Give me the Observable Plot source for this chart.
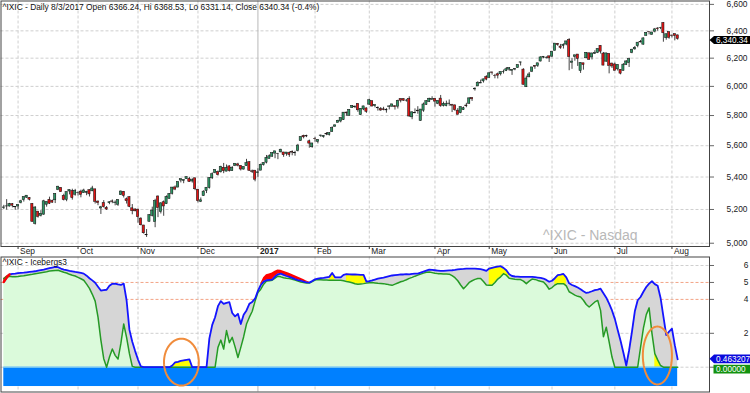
<!DOCTYPE html>
<html><head><meta charset="utf-8">
<script src="https://cdn.jsdelivr.net/npm/d3@7"></script>
<script src="https://cdn.jsdelivr.net/npm/@observablehq/plot@0.6"></script>
<style>
body{margin:0;background:#fff;}
#wrap{position:relative;width:750px;height:393px;overflow:hidden;background:#fff;}
#top{position:absolute;left:0;top:0;}
#bot{position:absolute;left:0;top:256px;}
svg{display:block;}
</style></head><body><div id="wrap"><div id="top"></div><div id="bot"></div></div>
<script>
// ---- price data (trading days, 2016-08-25 .. 2017-08-03) ----
const open=[5210,5218,5218,5232,5215,
5218,5240,5257,5272,5270,5234,5114,5187,5162,5169,5229,5259,5253,5256,5320,5331,5282,5259,5310,5313,5290,
5301,5309,5300,5302,5318,5311,5323,5248,5206,5238,5209,5238,5249,5238,5228,5287,5307,5262,5275,5207,5200,
5199,5145,5104,5049,5126,5162,5125,5279,5185,5244,5232,5264,5296,5335,5334,5378,5376,5387,5388,5372,5392,
5321,5247,5282,5314,5332,5392,5424,5431,5430,5458,5434,5467,5437,5470,5480,5470,5447,5469,5494,5436,5440,
5425,5440,5475,5491,5515,5529,5549,5548,5557,5556,5547,5553,5560,5551,5566,5630,5664,5664,5629,5590,
5644,5625,5664,5657,5678,5671,5690,5725,5751,5760,5770,5820,5798,5851,5856,5879,5804,5841,5848,
5874,5898,5864,5851,5843,5842,5835,5859,5860,5863,5860,5912,5912,5901,5913,5788,5815,5833,5764,5833,5873,5893,5907,
5914,5880,5915,5866,5864,5879,5872,5869,5833,5817,5837,5868,5880,5919,5979,6000,6020,6035,6066,
6060,6098,6074,6085,6085,6100,6108,6118,6110,6118,6130,6168,6118,5994,6063,6103,6144,6145,6176,6204,6202,6213,
6211,6254,6304,6284,6288,6299,6332,6167,6210,6226,6108,6163,6199,6235,6205,6231,6239,6289,6233,6175,6231,6161,
6155,6120,6116,6109,6152,6165,6237,6264,6287,6318,6298,6363,6392,6371,6394,6417,6420,6459,6346,6391,
6365,6375,6366.24];
const high=[5225,5260,5237,5236,5217,
5229,5256,5276,5285,5272,5234,5217,5187,5193,5256,5245,5275,5257,5295,5342,5334,5293,5306,5319,5324,5323,
5307,5318,5324,5311,5319,5342,5324,5252,5219,5254,5218,5247,5258,5252,5259,5313,5310,5270,5276,5230,5204,
5202,5150,5105,5080,5167,5214,5262,5283,5241,5252,5283,5296,5335,5344,5369,5387,5381,5399,5398,5390,5393,
5322,5270,5315,5333,5394,5426,5445,5438,5468,5486,5476,5471,5466,5484,5487,5471,5463,5512,5494,5444,5441,
5452,5482,5490,5537,5541,5555,5564,5550,5577,5557,5556,5560,5567,5564,5609,5657,5669,5669,5637,5615,
5655,5640,5669,5665,5686,5684,5724,5738,5768,5783,5820,5823,5839,5866,5864,5880,5846,5863,5852,
5911,5898,5872,5859,5854,5856,5847,5867,5876,5866,5904,5912,5912,5910,5928,5826,5845,5860,5841,5885,5899,5918,5928,
5915,5900,5937,5891,5898,5906,5876,5871,5847,5857,5857,5883,5921,5922,5990,6032,6044,6051,6075,
6097,6100,6084,6094,6101,6115,6133,6129,6117,6126,6151,6170,6124,6072,6098,6134,6146,6163,6210,6210,6210,6215,
6247,6306,6307,6300,6304,6324,6342,6196,6222,6226,6166,6163,6240,6236,6236,6254,6268,6289,6241,6235,6232,6164,
6165,6151,6116,6161,6182,6200,6264,6285,6312,6329,6347,6387,6393,6388,6418,6424,6426,6460,6377,6391,
6369,6376,6368.53];
const low=[5200,5196,5215,5210,5195,
5198,5234,5245,5267,5252,5125,5107,5148,5155,5164,5214,5230,5238,5236,5315,5305,5252,5247,5289,5257,5281,
5282,5271,5299,5284,5276,5309,5233,5223,5170,5209,5194,5229,5235,5222,5219,5286,5270,5233,5211,5168,5186,
5118,5102,5053,5034,5126,5155,5091,5151,5173,5159,5230,5264,5288,5315,5333,5363,5358,5386,5367,5362,5315,
5240,5242,5280,5297,5325,5384,5420,5406,5425,5421,5433,5431,5436,5466,5464,5438,5444,5468,5437,5422,5370,
5398,5440,5469,5483,5515,5525,5516,5510,5554,5525,5532,5525,5535,5532,5560,5630,5645,5653,5584,5584,
5623,5612,5655,5649,5666,5663,5689,5722,5751,5751,5767,5795,5796,5848,5847,5822,5801,5833,5815,
5868,5858,5852,5830,5829,5832,5816,5838,5855,5837,5844,5886,5897,5891,5788,5772,5812,5809,5761,5822,5869,5888,5905,
5857,5874,5856,5858,5859,5863,5820,5828,5805,5812,5834,5853,5877,5896,5967,6000,6020,6023,6039,
6058,6079,6053,6052,6073,6087,6104,6106,6077,6110,6127,6144,6010,5993,6063,6097,6120,6134,6173,6196,6194,6169,
6204,6251,6286,6264,6266,6290,6110,6120,6178,6141,6091,6114,6197,6187,6187,6227,6233,6230,6146,6170,6088,6126,
6108,6108,6081,6109,6147,6133,6232,6257,6275,6311,6295,6361,6370,6368,6385,6397,6409,6316,6331,6338,
6348,6326,6331.14];
const close=[5212.2,5218.9,5232.3,5223.0,5213.2,
5227.2,5249.9,5275.9,5283.9,5259.5,5125.9,5211.9,5155.3,5173.8,5249.7,5244.6,5235.0,5241.4,5295.2,5339.5,5305.8,5257.5,5305.7,5318.6,5269.2,5312.0,
5300.9,5289.7,5316.0,5306.9,5292.4,5328.7,5246.8,5239.0,5213.3,5214.2,5199.8,5243.8,5246.4,5241.8,5257.4,5309.8,5283.4,5250.3,5216.0,5190.1,5189.1,
5153.6,5105.6,5058.4,5046.4,5166.2,5193.5,5251.1,5208.8,5237.1,5218.4,5275.6,5294.6,5334.0,5321.5,5368.9,5386.4,5380.7,5398.9,5368.8,5379.9,5323.7,
5251.1,5255.7,5308.9,5333.0,5393.8,5417.4,5444.5,5412.5,5463.8,5436.7,5456.9,5437.2,5457.4,5483.9,5471.4,5447.4,5462.7,5487.4,5438.6,5432.1,5383.1,
5429.1,5477.0,5487.9,5521.1,5531.8,5551.8,5563.6,5547.5,5574.1,5538.7,5555.7,5540.1,5555.3,5552.9,5601.0,5656.3,5655.2,5660.8,5613.7,5614.8,
5642.7,5636.2,5666.8,5663.6,5674.2,5682.5,5715.2,5734.1,5764.0,5782.6,5819.4,5814.9,5838.6,5866.0,5860.6,5835.5,5845.3,5861.9,5825.4,
5904.0,5861.2,5870.8,5849.2,5833.9,5837.6,5838.8,5861.7,5875.8,5856.8,5900.1,5900.8,5901.0,5901.5,5793.8,5821.6,5817.7,5828.7,5840.4,5875.1,5897.6,5914.3,5911.7,
5894.7,5898.6,5864.5,5879.0,5877.8,5880.9,5866.8,5836.2,5805.2,5856.8,5849.5,5863.0,5916.8,5910.5,5983.8,6025.5,6025.2,6048.9,6047.6,
6091.6,6095.4,6072.6,6075.3,6100.8,6102.7,6120.6,6129.1,6116.0,6121.2,6149.7,6169.9,6011.2,6055.1,6083.7,6133.6,6138.7,6163.0,6205.3,6210.2,6203.2,6198.5,
6246.8,6305.8,6295.7,6275.1,6297.4,6321.8,6207.9,6175.5,6220.4,6194.9,6165.5,6151.8,6239.0,6188.0,6234.0,6236.7,6265.3,6247.2,6146.6,6234.4,6144.4,6140.4,
6110.1,6150.9,6089.5,6153.1,6176.4,6193.3,6261.2,6274.4,6312.5,6314.4,6344.3,6385.0,6390.0,6387.8,6410.8,6412.2,6422.8,6382.2,6374.7,6348.1,
6362.9,6362.6,6340.34];

// ---- Icebergs3 indicator ----
const blue=[5.03,5.28,5.47,5.50,5.52,5.55,5.57,5.58,5.60,5.62,
5.64,5.66,5.70,5.73,5.76,5.80,5.84,5.88,5.92,5.90,
5.82,5.76,5.72,5.68,5.65,5.62,5.60,5.56,5.52,5.40,
5.25,5.12,4.98,4.75,4.52,4.55,4.57,4.80,4.92,4.93,
4.88,4.85,4.93,3.95,2.20,1.50,0.95,0.45,0.05,0,
0,0,0,0,0,0,0,0,0,0.10,
0.28,0.32,0.37,0.40,0.43,0.46,0,0,0,0,
0,0,1.70,2.50,2.95,3.60,3.90,3.74,3.80,3.84,
3.20,3.00,3.15,2.55,3.10,3.35,3.74,3.85,4.04,4.50,
4.85,5.05,5.13,5.15,5.17,5.35,5.48,5.52,5.45,5.38,
5.33,5.27,5.20,5.14,5.10,5.05,5.01,4.99,5.08,5.18,
5.23,5.25,5.27,5.30,5.33,5.56,5.30,5.30,5.30,5.45,
5.49,5.48,5.47,5.47,5.46,5.45,5.45,5.05,5.08,5.12,
5.17,5.22,5.26,5.29,5.33,5.37,5.41,5.43,5.45,5.47,
5.47,5.49,5.48,5.50,5.52,5.52,5.58,5.64,5.70,5.76,
5.74,5.72,5.70,5.68,5.68,5.70,5.71,5.72,5.74,5.77,
5.79,5.80,5.82,5.82,5.82,5.82,5.80,5.78,5.74,5.68,
5.82,5.86,5.90,5.93,5.96,5.86,5.72,5.48,5.38,5.35,
5.34,5.33,5.33,5.33,5.33,5.33,5.31,5.29,5.27,5.23,
5.15,5.04,5.10,5.25,5.43,5.46,5.50,5.30,4.95,4.85,
4.78,4.70,4.60,4.48,4.38,4.42,4.48,4.55,4.58,4.63,
4.36,4.10,3.75,3.35,2.85,2.20,1.56,0.85,0.10,1.00,
2.10,3.30,3.95,4.14,4.45,4.73,4.93,5.07,4.90,4.80,
4.10,3.00,1.90,2.10,2.27,1.30,0.463207];
const green=[5.23,5.35,5.37,5.33,5.33,5.35,5.38,5.40,5.43,5.46,
5.48,5.51,5.54,5.57,5.60,5.63,5.67,5.69,5.71,5.72,
5.66,5.60,5.56,5.48,5.42,5.38,5.30,5.22,5.13,4.90,
4.65,4.30,3.90,2.95,1.60,0.50,0,0.60,1.07,0.70,
0.48,1.40,2.55,1.76,0.80,0.05,0,0,0,0,
0,0,0,0,0,0,0,0,0,0,
0,0,0,0,0,0,0,0,0,0,
0,0,0,0,0,1.17,1.60,1.07,2.16,1.45,
1.76,1.20,0.57,1.17,1.80,2.55,2.95,3.30,3.90,4.40,
4.60,4.90,5.09,5.10,5.13,5.25,5.37,5.33,5.28,5.25,
5.23,5.19,5.14,5.08,5.03,5.00,4.97,4.97,5.05,5.14,
5.17,5.16,5.15,5.14,5.13,5.13,5.13,5.13,5.13,5.10,
5.06,5.03,4.98,4.92,4.89,4.91,4.93,4.96,4.98,4.99,
4.97,4.95,4.94,4.93,4.90,4.86,4.83,4.90,4.97,5.04,
5.09,5.16,5.24,5.30,5.37,5.43,5.49,5.55,5.60,5.62,
5.58,5.54,5.52,5.51,5.50,5.50,5.49,5.40,5.28,5.10,
4.85,4.63,4.80,5.00,5.10,5.18,5.23,5.23,5.05,4.85,
4.83,4.83,5.00,5.20,5.33,5.52,5.43,5.25,5.22,5.19,
5.17,5.17,5.08,4.93,5.08,5.20,5.18,5.12,5.07,5.03,
4.85,4.60,4.70,4.85,4.93,4.93,4.93,4.80,4.45,4.35,
4.25,4.18,4.14,3.95,3.70,3.55,3.70,3.85,3.94,3.35,
1.80,2.36,1.50,0.60,0,0,0,0,0,0,
0,0,0,1.17,2.30,3.10,3.50,2.00,0.80,0.43,
0.10,0,0,0,0,0,0];
const redIdx=[0,1,2, 90,91,92,93,94,95,96,97,98,99,100,101,102,103,104,105,106,107];
const redUpper=[5.23,5.38,5.50, 4.92,5.28,5.45,5.50,5.56,5.66,5.74,5.72,5.66,5.60,5.54,5.47,5.40,5.32,5.25,5.17,5.09,5.02];
const redLineIdx=[0,1,2];
const yellowSpans=[[59,66],[114,116],[120,127],[170,177],[193,197]];
const yellowUnderSpans=[[228,230]];
const bandLow=-1.14;
const circleIdx=[62.2,228.9], circleVal=[0.30,0.69], circleRx=[6.1,5.1], circleRy=[1.38,1.71];

// ---- labels / ticks ----
const monthIdx=[5,26,47,68,89,109,128,151,170,192,214,234];
const monthLbl=["Sep","Oct","Nov","Dec","2017","Feb","Mar","Apr","May","Jun","Jul","Aug"];
const priceTicks=[5000,5200,5400,5600,5800,6000,6200,6400,6600];
const indTicks=[0,2,4,5,6];
const title="^IXIC - Daily 8/3/2017 Open 6366.24, Hi 6368.53, Lo 6331.14, Close 6340.34 (-0.4%)";
const watermark="^IXIC - Nasdaq";
const indTitle="^IXIC - Icebergs3";
const lastClose=6340.34, lastBlue=0.463207, lastGreen=0;

const FONT='"Liberation Sans", Arial, sans-serif';
const N=close.length;
const xDomain=[-0.98,247.15];
const candles=d3.range(N).map(i=>({i,o:open[i],h:high[i],l:low[i],c:close[i]}));
const months=monthIdx.map((x,k)=>({x,lbl:monthLbl[k],year:monthLbl[k]==="2017"}));
const gridMonths=months.filter(d=>!d.year);
const yearMonths=months.filter(d=>d.year);

const topPlot=Plot.plot({
  width:750,height:256,marginLeft:0.5,marginRight:41,marginTop:0.5,marginBottom:10,
  x:{type:"linear",domain:xDomain,axis:null,label:null},
  y:{type:"log",domain:[4981,6626],axis:null,label:null},
  style:{fontFamily:FONT,fontSize:"8.4px",background:"#fff"},
  marks:[
    Plot.ruleY(priceTicks,{stroke:"#cfcfcf",strokeDasharray:"3,2"}),
    Plot.ruleX(gridMonths,{x:"x",stroke:"#cfcfcf",strokeDasharray:"3,2"}),
    Plot.ruleX(yearMonths,{x:"x",stroke:"#b8b8b8"}),
    Plot.ruleX(candles,{x:"i",y1:"l",y2:"h",stroke:"#444",strokeWidth:1}),
    Plot.rect(candles,{x1:d=>d.i-0.38,x2:d=>d.i+0.38,y1:"o",y2:"c",
      fill:d=>d.c>=d.o?"#2f9866":"#e41414",stroke:"#151515",strokeWidth:0.55}),
    Plot.text([watermark],{text:d=>d,frameAnchor:"bottom-right",dx:-72,dy:-11,lineAnchor:"middle",fontSize:14,fill:"#b8b8b8"}),
    Plot.text([title],{text:d=>d,frameAnchor:"top-left",dx:1.5,dy:6,lineAnchor:"middle",fill:"#111"}),
    Plot.axisX({ticks:monthIdx,tickSize:3,tickFormat:()=>"",stroke:"#333"}),
    Plot.text(gridMonths,{x:"x",text:"lbl",frameAnchor:"bottom",dy:5,dx:2,textAnchor:"start",lineAnchor:"middle",fill:"#222"}),
    Plot.text(yearMonths,{x:"x",text:"lbl",frameAnchor:"bottom",dy:5,dx:2,textAnchor:"start",lineAnchor:"middle",fontWeight:"bold",fill:"#222"}),
    Plot.axisY({anchor:"right",ticks:priceTicks,tickFormat:d3.format(","),tickSize:4,tickPadding:34,textAnchor:"end",stroke:"#666",fill:"#222"}),
    Plot.frame({stroke:"#444"})
  ]
});
document.getElementById("top").appendChild(topPlot);

const ind=d3.range(N).map(i=>({i,b:blue[i],g:green[i]}));
const yellowPts=yellowSpans.flatMap(([a,b],s)=>d3.range(a,b+1).map(i=>({i,lo:green[i],hi:blue[i],s})));
const yellowUnderPts=yellowUnderSpans.flatMap(([a,b],s)=>d3.range(a,b+1).map(i=>({i,lo:0,hi:green[i],s})));
const redPts=redIdx.map((i,k)=>({i,lo:blue[i],hi:redUpper[k],s:i<50?0:1}));
const redLine=redLineIdx.map(i=>({i,b:blue[i]}));
const band=[{x1:0,x2:N-1,y1:0,y2:bandLow}];
const ellPts=circleIdx.flatMap((cx,k)=>d3.range(0,73).map(t=>{const a=t/72*2*Math.PI;return {k,x:cx+circleRx[k]*Math.cos(a),y:circleVal[k]+circleRy[k]*Math.sin(a)};}));

const botPlot=Plot.plot({
  width:750,height:137,marginLeft:0.5,marginRight:41,marginTop:0.5,marginBottom:1.5,
  x:{type:"linear",domain:xDomain,axis:null,label:null},
  y:{type:"linear",domain:[-1.463,6.501],axis:null,label:null},
  style:{fontFamily:FONT,fontSize:"8.4px",background:"#fff"},
  marks:[
    Plot.ruleY([0,2,6],{stroke:"#cfcfcf",strokeDasharray:"3,2"}),
    Plot.ruleY([4,5],{stroke:"#f3a385",strokeDasharray:"3,2"}),
    Plot.ruleX(gridMonths,{x:"x",stroke:"#cfcfcf",strokeDasharray:"3,2"}),
    Plot.ruleX(yearMonths,{x:"x",stroke:"#b8b8b8"}),
    Plot.areaY(ind,{x:"i",y1:0,y2:"g",fill:"#dbfadb"}),
    Plot.areaY(ind,{x:"i",y1:"g",y2:"b",fill:"#d6d6d6"}),
    Plot.areaY(yellowPts,{x:"i",y1:"lo",y2:"hi",z:"s",fill:"#ffff00"}),
    Plot.areaY(yellowUnderPts,{x:"i",y1:"lo",y2:"hi",z:"s",fill:"#ffff00"}),
    Plot.areaY(redPts,{x:"i",y1:"lo",y2:"hi",z:"s",fill:"#ff0000"}),
    Plot.rect(band,{x1:"x1",x2:"x2",y1:"y1",y2:"y2",fill:"#0080ff"}),
    Plot.ruleY([0],{x1:0,x2:N-1,stroke:"#9fe0ee",strokeWidth:1}),
    Plot.line(ind,{x:"i",y:"g",stroke:"#259a25",strokeWidth:1.5}),
    Plot.line(ind,{x:"i",y:"b",stroke:"#1414ff",strokeWidth:1.8}),
    Plot.line(redLine,{x:"i",y:"b",stroke:"#ff0000",strokeWidth:2.4}),
    Plot.line(ellPts,{x:"x",y:"y",z:"k",stroke:"#f08c3c",strokeWidth:2,curve:"linear"}),
    Plot.text([indTitle],{text:d=>d,frameAnchor:"top-left",dx:1.5,dy:5,lineAnchor:"middle",fill:"#111"}),
    Plot.axisY({anchor:"right",ticks:indTicks,tickFormat:d=>d===0?"":String(d),tickSize:4,tickPadding:35,textAnchor:"end",stroke:"#666",fill:"#222"}),
    Plot.frame({stroke:"#444"})
  ]
});
document.getElementById("bot").appendChild(botPlot);

// value tags on the right axis, positioned with the plots' own scales
function yOf(plot,v,fb){try{const s=plot.scale("y");if(s&&s.apply)return s.apply(v);}catch(e){}return fb(v);}
function tag(svgEl,y,text,fill,arrow,h){
  const g=d3.select(svgEl).append("g").attr("text-anchor","start");
  const d=arrow?`M709.5,${y}L714,${y-h}L750,${y-h}L750,${y+h}L714,${y+h}Z`:`M713.5,${y-h}L750,${y-h}L750,${y+h}L713.5,${y+h}Z`;
  g.append("path").attr("d",d).attr("fill",fill);
  g.append("text").attr("x",716).attr("y",y).attr("dy","0.36em").attr("fill","#fff")
   .attr("text-anchor","start").attr("font-family",FONT).attr("font-size","8.2px").text(text);
}
// price tag sits just below its value, as in the reference, clear of the 6,400 label
const yP=yOf(topPlot,lastClose,d3.scaleLog().domain([4981,6626]).range([246,0.5]))+1.6;
tag(topPlot,yP,d3.format(",.2f")(lastClose),"#000",true,4);
const yB=yOf(botPlot,lastBlue,d3.scaleLinear().domain([-1.463,6.501]).range([135.5,0.5]));
const yG=Math.max(yOf(botPlot,lastGreen,d3.scaleLinear().domain([-1.463,6.501]).range([135.5,0.5])),yB+10.2);
tag(botPlot,yB,String(lastBlue),"#0a0adc",true,4.4);
tag(botPlot,yG,"0.00000","#13920f",false,4.4);
</script></body></html>
